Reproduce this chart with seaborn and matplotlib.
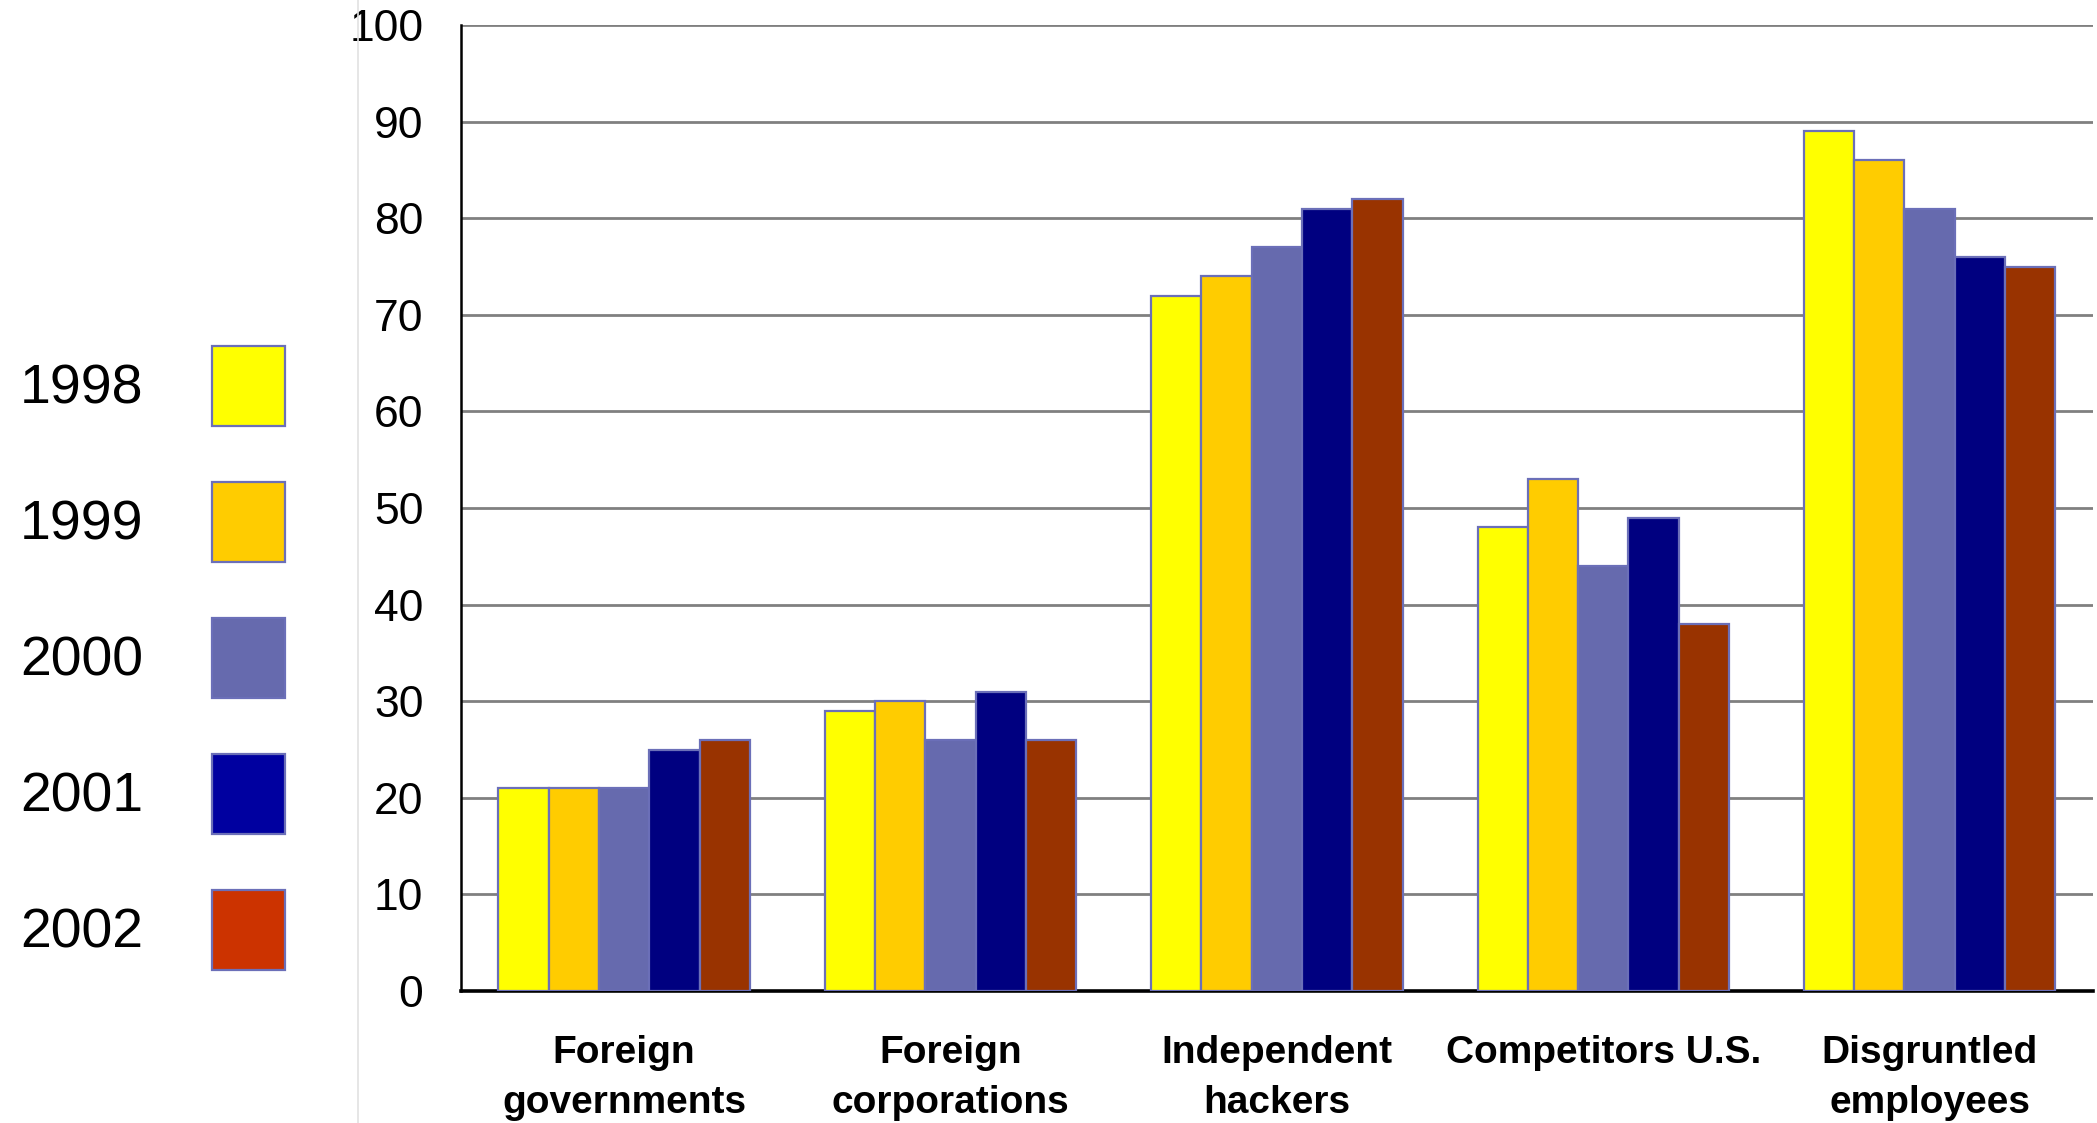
import pandas as pd
import matplotlib.pyplot as plt
from matplotlib.patches import Patch
from matplotlib.lines import Line2D
import seaborn as sns

# Data
categories = ["Foreign\ngovernments", "Foreign\ncorporations", "Independent\nhackers",
              "Competitors U.S.", "Disgruntled\nemployees"]
years = ["1998", "1999", "2000", "2001", "2002"]
v1998 = [21, 29, 72, 48, 89]
v1999 = [21, 30, 74, 53, 86]
v2000 = [21, 26, 77, 44, 81]
v2001 = [25, 31, 81, 49, 76]
v2002 = [26, 26, 82, 38, 75]

bar_colors = ["#FFFF00", "#FFCC00", "#666AAE", "#000080", "#993300"]
legend_colors = ["#FFFF00", "#FFCC00", "#666AAE", "#0000A0", "#CC3300"]
edge = "#6B6FB8"

rows = []
for yr, vals in zip(years, [v1998, v1999, v2000, v2001, v2002]):
    for cat, v in zip(categories, vals):
        rows.append({"cat": cat, "year": yr, "val": v})
df = pd.DataFrame(rows)

sns.set_style("white")
plt.rcParams['font.family'] = ['Liberation Sans', 'DejaVu Sans']
plt.rcParams['text.color'] = 'black'

fig = plt.figure(figsize=(20.97, 11.23), dpi=100)
ax = fig.add_axes([0.2198, 0.1175, 0.7782, 0.8602])

sns.barplot(data=df, x="cat", y="val", hue="year", order=categories, hue_order=years,
            palette=bar_colors, saturation=1, width=0.77, edgecolor=edge, linewidth=1.6,
            legend=False, ax=ax, zorder=3)

ax.set_ylim(0, 100)
ax.set_xlim(-0.5, 4.5)
ax.set_yticks(range(0, 101, 10))
ax.yaxis.grid(True, color="#808080", linewidth=2.0, zorder=0)
ax.set_axisbelow(True)
ax.set_xlabel("")
ax.set_ylabel("")
for s in ["top", "right"]:
    ax.spines[s].set_visible(False)
ax.spines["left"].set_color("black")
ax.spines["left"].set_linewidth(1.8)
ax.spines["bottom"].set_color("black")
ax.spines["bottom"].set_linewidth(2.6)
ax.tick_params(axis="y", length=0, pad=27, labelsize=32, labelcolor="black")
ax.tick_params(axis="x", length=0, pad=32, labelcolor="black")
for lab in ax.get_xticklabels():
    lab.set_fontfamily(['Liberation Sans Narrow', 'Liberation Sans', 'DejaVu Sans'])
    lab.set_fontweight("bold")
    lab.set_fontsize(28)
    lab.set_linespacing(1.5)
    lab.set_verticalalignment("top")

# legend on the left, labels before the swatches
handles = [Patch(facecolor=c, edgecolor=edge, linewidth=1.6) for c in legend_colors]
fig.legend(handles, years, loc="upper left", bbox_to_anchor=(0.0095, 0.692),
           markerfirst=False, frameon=False, fontsize=40,
           handlelength=1.31, handleheight=1.85, handletextpad=1.24,
           labelspacing=1.0, borderaxespad=0, borderpad=0)

# faint separator line
fig.add_artist(Line2D([0.1707, 0.1707], [0, 1], color="#e2e2e2", linewidth=1.2))

fig.savefig("out.png", dpi=100)
